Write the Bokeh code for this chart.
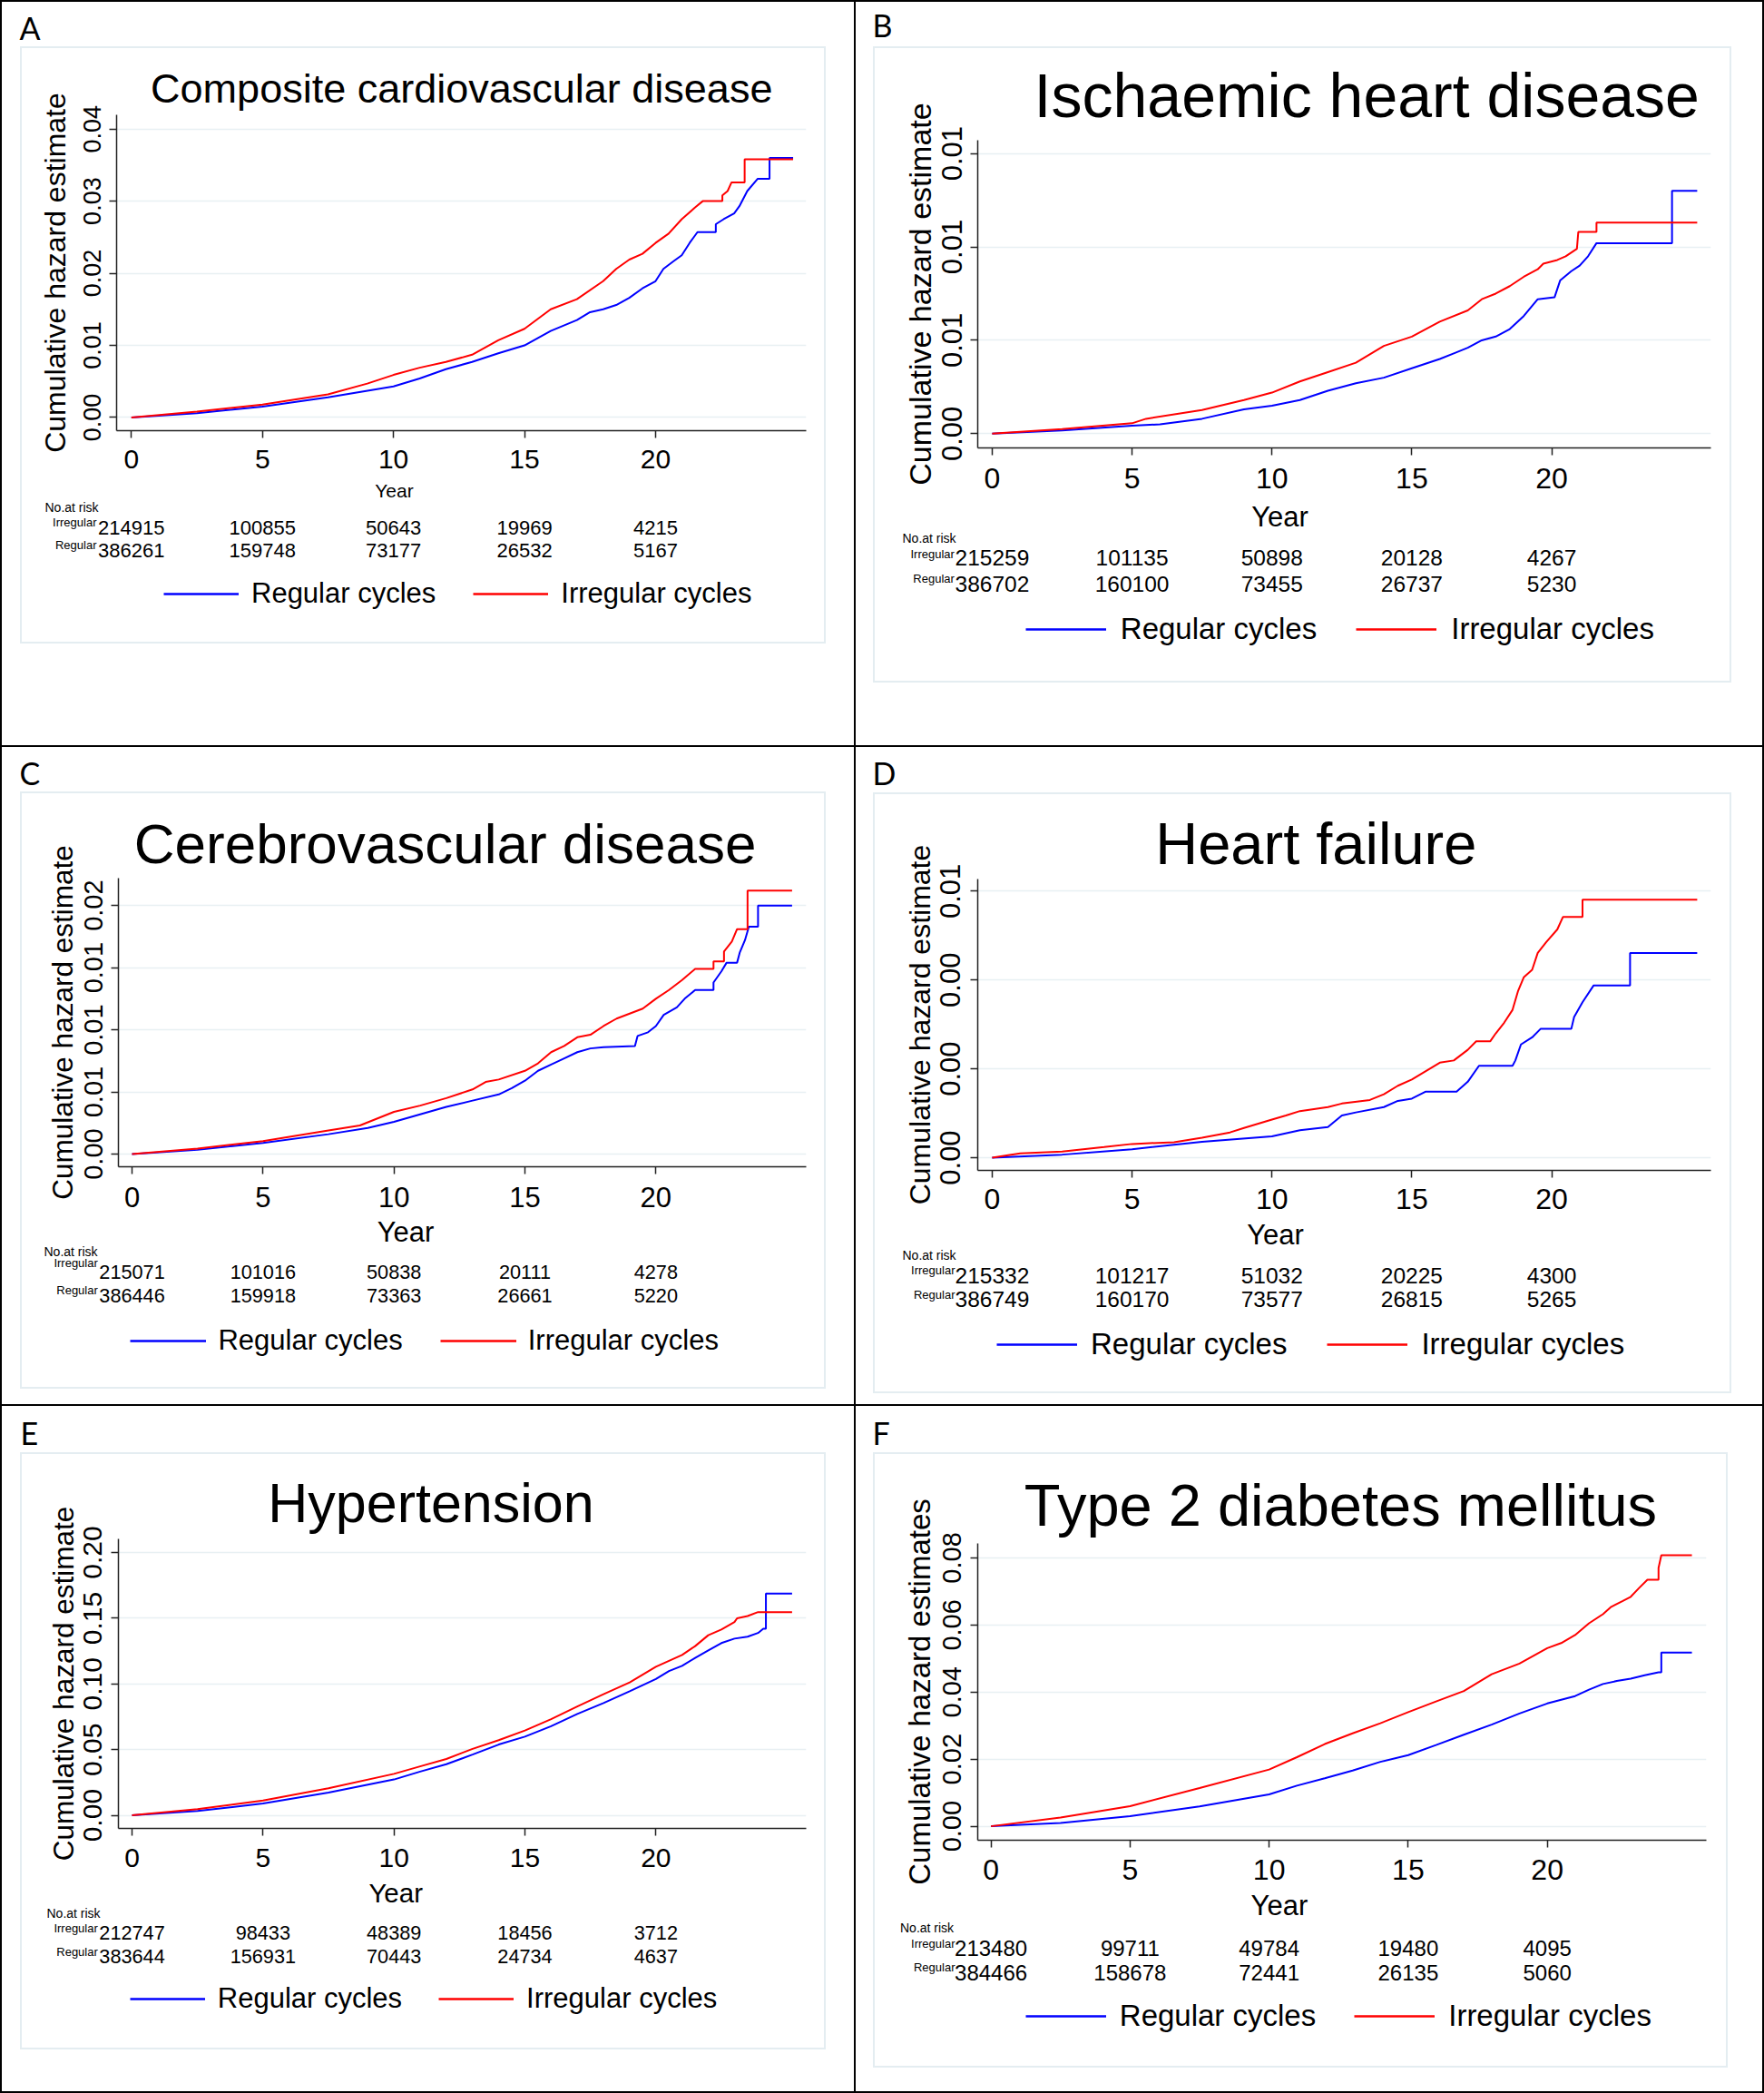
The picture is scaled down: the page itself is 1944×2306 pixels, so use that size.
import math
from bokeh.plotting import figure
from bokeh.layouts import row, column
from bokeh.models import Range1d, FixedTicker, Label, Legend, LegendItem, Spacer
from bokeh.embed import file_html
from bokeh.resources import INLINE

FONT = "Liberation Sans"
LETTER_FONT = "Lato"
BLUE = "#0000FF"
RED = "#FF0000"
GRID = "#E8F0F3"
BOXC = "#E4EDF1"
AXC = "#222222"

# ---------------- data ----------------
year_ticks = [0, 5, 10, 15, 20]
legend_labels = ["Regular cycles", "Irregular cycles"]
risk_row_labels = ["Irregular", "Regular"]

panel_letters = ["A", "B", "C", "D", "E", "F"]
titles = ["Composite cardiovascular disease", "Ischaemic heart disease",
          "Cerebrovascular disease", "Heart failure", "Hypertension",
          "Type 2 diabetes mellitus"]
ylabels = ["Cumulative hazard estimate"] * 5 + ["Cumulative hazard estimates"]

A_yticks = [0.0, 0.01, 0.02, 0.03, 0.04]
A_ytick_labels = ["0.00", "0.01", "0.02", "0.03", "0.04"]
B_yticks = [0.0, 0.005, 0.01, 0.015]
B_ytick_labels = ["0.00", "0.01", "0.01", "0.01"]
C_yticks = [0.0, 0.005, 0.01, 0.015, 0.02]
C_ytick_labels = ["0.00", "0.01", "0.01", "0.01", "0.02"]
D_yticks = [0.0, 0.002, 0.004, 0.006]
D_ytick_labels = ["0.00", "0.00", "0.00", "0.01"]
E_yticks = [0.0, 0.05, 0.10, 0.15, 0.20]
E_ytick_labels = ["0.00", "0.05", "0.10", "0.15", "0.20"]
F_yticks = [0.0, 0.02, 0.04, 0.06, 0.08]
F_ytick_labels = ["0.00", "0.02", "0.04", "0.06", "0.08"]

A_reg_t = [0, 2.5, 5, 7.5, 10, 11, 12, 13, 14, 15, 16, 17, 17.5, 18, 18.5, 19, 19.5, 20, 20.3, 20.7,
           21, 21.3, 21.6, 22.3, 22.3, 22.6, 23.0, 23.2, 23.5, 23.9, 24.35, 24.35, 25.25]
A_reg_h = [0, 0.0006, 0.0015, 0.0028, 0.0043, 0.0054, 0.0067, 0.0077, 0.0089, 0.0100, 0.0120, 0.0135,
           0.0146, 0.0150, 0.0156, 0.0166, 0.0179, 0.0189, 0.0206, 0.0217, 0.0225, 0.0242, 0.0257,
           0.0257, 0.0268, 0.0275, 0.0283, 0.0293, 0.0314, 0.0331, 0.0331, 0.0360, 0.0360]
A_irr_t = [0, 2.5, 5, 7.5, 9, 10, 11, 12, 13, 14, 15, 16, 17, 18, 18.5, 19, 19.5, 20, 20.5, 21,
           21.5, 21.8, 22.55, 22.55, 22.75, 22.9, 23.4, 23.4, 25.25]
A_irr_h = [0, 0.0008, 0.0018, 0.0032, 0.0047, 0.0059, 0.0069, 0.0077, 0.0087, 0.0107, 0.0123, 0.0150,
           0.0164, 0.0189, 0.0206, 0.0219, 0.0227, 0.0242, 0.0255, 0.0275, 0.0291, 0.0300, 0.0300,
           0.0308, 0.0314, 0.0326, 0.0326, 0.0358, 0.0358]

B_reg_t = [0, 2.5, 5, 6, 7.5, 9, 10, 11, 12, 13, 14, 15, 16, 16.5, 17, 17.5, 18, 18.5, 19, 19.5,
           20.1, 20.3, 20.7, 21, 21.3, 21.6, 24.3, 24.3, 25.2]
B_reg_h = [0, 0.00018, 0.00043, 0.0005, 0.0008, 0.0013, 0.0015, 0.0018, 0.0023, 0.0027, 0.0030,
           0.0035, 0.0040, 0.0043, 0.0046, 0.0050, 0.0052, 0.0056, 0.0063, 0.0072, 0.0073, 0.0082,
           0.0087, 0.0090, 0.0095, 0.0102, 0.0102, 0.0130, 0.0130]
B_irr_t = [0, 2.5, 5, 5.5, 7.5, 9, 10, 11, 12, 13, 14, 15, 16, 17, 17.5, 18, 18.5, 19, 19.5, 19.7,
           20.2, 20.5, 20.9, 20.95, 21.6, 21.6, 25.2]
B_irr_h = [0, 0.00025, 0.00056, 0.0008, 0.00127, 0.0018, 0.0022, 0.0028, 0.0033, 0.0038, 0.0047,
           0.0052, 0.0060, 0.0066, 0.0072, 0.0075, 0.0079, 0.0084, 0.0088, 0.0091, 0.0093, 0.0095,
           0.0099, 0.0108, 0.0108, 0.0113, 0.0113]

C_reg_t = [0, 2.5, 5, 7.5, 9, 10, 11, 12, 13, 14, 14.5, 15, 15.5, 16, 16.5, 17, 17.5, 18, 19.2,
           19.3, 19.7, 20, 20.3, 20.8, 21.1, 21.5, 22.2, 22.2, 22.5, 22.7, 23.1, 23.2, 23.4, 23.55,
           23.9, 23.9, 25.2]
C_reg_h = [0, 0.00034, 0.0009, 0.0016, 0.0021, 0.0026, 0.0032, 0.0038, 0.0043, 0.0048, 0.0053,
           0.0059, 0.0067, 0.0072, 0.0077, 0.0082, 0.0085, 0.0086, 0.0087, 0.0095, 0.0098, 0.0103,
           0.0112, 0.0118, 0.0125, 0.0132, 0.0132, 0.0138, 0.0147, 0.0154, 0.0154, 0.0162, 0.0172,
           0.0183, 0.0183, 0.0200, 0.0200]
C_irr_t = [0, 2.5, 5, 7.5, 8.7, 10, 11, 12, 13, 13.5, 14, 15, 15.5, 16, 16.5, 17, 17.5, 18, 18.5,
           19, 19.5, 20, 20.5, 21, 21.5, 22.2, 22.2, 22.6, 22.6, 22.9, 23.1, 23.5, 23.5, 25.2]
C_irr_h = [0, 0.00044, 0.00105, 0.0019, 0.0023, 0.0034, 0.0039, 0.0045, 0.0052, 0.0058, 0.0060,
           0.0067, 0.0073, 0.0082, 0.0087, 0.0094, 0.0096, 0.0103, 0.0109, 0.0113, 0.0117, 0.0125,
           0.0132, 0.0140, 0.0149, 0.0149, 0.0155, 0.0155, 0.0163, 0.0171, 0.0181, 0.0181, 0.0212,
           0.0212]

D_reg_t = [0, 2.5, 5, 7.5, 10, 11, 12, 12.5, 13, 14, 14.5, 15, 15.5, 16.6, 17, 17.4, 18.6, 18.7,
           18.9, 19.3, 19.6, 20.7, 20.8, 21.1, 21.5, 22.8, 22.8, 25.2]
D_reg_h = [0, 0.00007, 0.00019, 0.00036, 0.00048, 0.00062, 0.00069, 0.00095, 0.00102, 0.00114,
           0.00128, 0.00133, 0.00149, 0.00149, 0.00171, 0.00207, 0.00207, 0.00219, 0.00255, 0.00271,
           0.0029, 0.0029, 0.00317, 0.0035, 0.00388, 0.00388, 0.00461, 0.00461]
D_irr_t = [0, 1, 2.5, 4, 5, 6.5, 7.5, 8.5, 9, 10, 10.5, 11, 12, 12.5, 13.5, 14, 14.5, 15, 15.5, 16,
           16.5, 17, 17.3, 17.8, 18, 18.3, 18.6, 18.8, 19, 19.3, 19.5, 19.8, 20.2, 20.4, 21.1, 21.1,
           25.2]
D_irr_h = [0, 0.0001, 0.00014, 0.00024, 0.00031, 0.00035, 0.00045, 0.00057, 0.00067, 0.00086,
           0.00095, 0.00105, 0.00114, 0.00122, 0.0013, 0.00143, 0.00162, 0.00176, 0.00195, 0.00214,
           0.00219, 0.00243, 0.00262, 0.00262, 0.0028, 0.00304, 0.00333, 0.00376, 0.00406, 0.00423,
           0.00461, 0.00485, 0.00514, 0.00542, 0.00542, 0.00581, 0.00581]

E_reg_t = [0, 2.5, 5, 7.5, 10, 11, 12, 13, 14, 15, 16, 17, 18, 19, 20, 20.5, 21, 21.5, 22, 22.5,
           23, 23.5, 23.9, 24.1, 24.2, 24.2, 25.2]
E_reg_h = [0, 0.0033, 0.0090, 0.0173, 0.0273, 0.0333, 0.0389, 0.0463, 0.0539, 0.0599, 0.0679,
           0.0772, 0.0855, 0.0945, 0.1038, 0.1098, 0.1138, 0.1198, 0.1255, 0.1311, 0.1345, 0.136,
           0.1388, 0.142, 0.142, 0.1687, 0.1687]
E_irr_t = [0, 2.5, 5, 7.5, 10, 11, 12, 13, 14, 15, 16, 17, 18, 19, 20, 21, 21.5, 22, 22.5, 23,
           23.1, 23.5, 23.9, 25.2]
E_irr_h = [0, 0.0047, 0.0113, 0.0206, 0.0316, 0.0373, 0.0429, 0.0506, 0.0572, 0.0646, 0.0732,
           0.0829, 0.0922, 0.1012, 0.1131, 0.1221, 0.1288, 0.1371, 0.1414, 0.1471, 0.150, 0.1517,
           0.1547, 0.1547]

F_reg_t = [0, 2.5, 5, 7.5, 10, 11, 12, 13, 14, 15, 16, 17, 18, 19, 20, 21, 21.5, 22, 22.5, 23,
           23.5, 24.0, 24.1, 24.1, 25.2]
F_reg_h = [0, 0.0010, 0.0030, 0.0059, 0.0095, 0.0121, 0.0143, 0.0166, 0.0192, 0.0212, 0.0242,
           0.0273, 0.0303, 0.0336, 0.0366, 0.0388, 0.0407, 0.0424, 0.0433, 0.0440, 0.0450, 0.0459,
           0.0459, 0.0518, 0.0518]
F_irr_t = [0, 2.5, 5, 7.5, 10, 11, 12, 13, 14, 15, 16, 17, 18, 19, 20, 20.5, 21, 21.5, 22, 22.3,
           22.7, 23, 23.3, 23.6, 24.0, 24.0, 24.1, 25.2]
F_irr_h = [0, 0.0026, 0.0060, 0.0114, 0.0169, 0.0206, 0.0245, 0.0277, 0.0307, 0.0340, 0.0372,
           0.0403, 0.0453, 0.0485, 0.0531, 0.0546, 0.0570, 0.0605, 0.0632, 0.0654, 0.0671, 0.0684,
           0.0710, 0.0735, 0.0735, 0.0770, 0.0808, 0.0808]

A_risk_irr = [214915, 100855, 50643, 19969, 4215]
A_risk_reg = [386261, 159748, 73177, 26532, 5167]
B_risk_irr = [215259, 101135, 50898, 20128, 4267]
B_risk_reg = [386702, 160100, 73455, 26737, 5230]
C_risk_irr = [215071, 101016, 50838, 20111, 4278]
C_risk_reg = [386446, 159918, 73363, 26661, 5220]
D_risk_irr = [215332, 101217, 51032, 20225, 4300]
D_risk_reg = [386749, 160170, 73577, 26815, 5265]
E_risk_irr = [212747, 98433, 48389, 18456, 3712]
E_risk_reg = [383644, 156931, 70443, 24734, 4637]
F_risk_irr = [213480, 99711, 49784, 19480, 4095]
F_risk_reg = [384466, 158678, 72441, 26135, 5060]

DATA = {
    "A": dict(yt=A_yticks, yl=A_ytick_labels, reg=(A_reg_t, A_reg_h), irr=(A_irr_t, A_irr_h),
              ri=A_risk_irr, rr=A_risk_reg),
    "B": dict(yt=B_yticks, yl=B_ytick_labels, reg=(B_reg_t, B_reg_h), irr=(B_irr_t, B_irr_h),
              ri=B_risk_irr, rr=B_risk_reg),
    "C": dict(yt=C_yticks, yl=C_ytick_labels, reg=(C_reg_t, C_reg_h), irr=(C_irr_t, C_irr_h),
              ri=C_risk_irr, rr=C_risk_reg),
    "D": dict(yt=D_yticks, yl=D_ytick_labels, reg=(D_reg_t, D_reg_h), irr=(D_irr_t, D_irr_h),
              ri=D_risk_irr, rr=D_risk_reg),
    "E": dict(yt=E_yticks, yl=E_ytick_labels, reg=(E_reg_t, E_reg_h), irr=(E_irr_t, E_irr_h),
              ri=E_risk_irr, rr=E_risk_reg),
    "F": dict(yt=F_yticks, yl=F_ytick_labels, reg=(F_reg_t, F_reg_h), irr=(F_irr_t, F_irr_h),
              ri=F_risk_irr, rr=F_risk_reg),
}

# ---------------- layout (reference pixel positions, page coordinates) ----------------
COL_X0 = [2, 943]
COL_W = [939, 999]
ROW_Y0 = [2, 823, 1549]
ROW_H = [819, 724, 755]

# title: (centre x, font px, em width, standoff)
LAY = {
    "A": dict(col=0, row=0, frame=(128.4, 888.0, 125.8, 474.4), xr=(-0.565, 25.75), yr=(-0.00183, 0.04197),
              letter=(21, 44.6), title=(508.6, 45, 15.227, 8), ylab=(60.5, 300.1, 32),
              ybot=526,
              yt=(101, 27), xt=(507.5, 30), year=(434, 540, 21), nar=(49, 558.5),
              sup=(106, 575, 600), rows=(581, 606, 22),
              leg=(180, 263, 654.3, 277, 521, 31), box=(22.3, 910, 50.9, 708.8)),
    "B": dict(col=1, row=0, frame=(1076.9, 1884.7, 152.0, 492.8), xr=(-0.516, 25.69), yr=(-0.00076, 0.01571),
              letter=(961, 42), title=(1505.6, 68, 10.782, 24), ylab=(1010.6, 320.8, 34),
              ybot=550,
              yt=(1047, 31), xt=(528.4, 32), year=(1410, 568.8, 31), nar=(994, 592.4),
              sup=(1051.4, 609.7, 637), rows=(614.4, 643.3, 24.5),
              leg=(1129.8, 1219, 693, 1234.9, 1494.2, 33), box=(962, 1908, 50.9, 752.3)),
    "C": dict(col=0, row=1, frame=(129.6, 887.7, 967.3, 1285.4), xr=(-0.52, 25.74), yr=(-0.00102, 0.0222),
              letter=(21, 866), title=(489.7, 62, 11.059, 7), ylab=(66.3, 1126, 31.5),
              ybot=1339,
              yt=(101, 29), xt=(1320.2, 31), year=(446.6, 1357.4, 31), nar=(48, 1378.2),
              sup=(107.3, 1390.8, 1420.9), rows=(1401, 1427, 21.7),
              leg=(143.4, 227.8, 1476.7, 241, 485, 31), box=(22, 910, 871.7, 1530)),
    "D": dict(col=1, row=1, frame=(1076.9, 1884.7, 968.3, 1288.6), xr=(-0.516, 25.69), yr=(-0.000285, 0.006274),
              letter=(961, 866), title=(1450, 65, 5.456, 6), ylab=(1010.6, 1128.4, 32),
              ybot=1341,
              yt=(1045.7, 31), xt=(1322, 32), year=(1405, 1360.2, 31), nar=(994, 1382.9),
              sup=(1052, 1399.1, 1425.6), rows=(1404.7, 1431.2, 24.5),
              leg=(1098, 1187, 1481.3, 1201.7, 1462, 33), box=(962, 1908, 873, 1534.7)),
    "E": dict(col=0, row=2, frame=(129.6, 887.7, 1694.6, 2013.8), xr=(-0.52, 25.74), yr=(-0.00994, 0.2104),
              letter=(22, 1593), title=(474, 61, 5.891, 11), ylab=(66.3, 1853.7, 31.5),
              ybot=2067,
              yt=(99, 30), xt=(2048, 30), year=(435.7, 2084.6, 29.5), nar=(51, 2107.8),
              sup=(107.3, 2123.7, 2150.3), rows=(2128.6, 2155.1, 21.7),
              leg=(142.8, 226, 2201.8, 239.9, 483, 31), box=(22.3, 910, 1599.7, 2257.8)),
    "F": dict(col=1, row=2, frame=(1076.9, 1879.6, 1699.5, 2027.3), xr=(-0.476, 25.72), yr=(-0.00416, 0.0843),
              letter=(961, 1593), title=(1478.6, 65, 10.782, 12), ylab=(1010.6, 1862.4, 33),
              ybot=2081,
              yt=(1047, 29), xt=(2062, 32), year=(1409.4, 2099.2, 31), nar=(991.5, 2123.7),
              sup=(1052, 2140.6, 2167.1), rows=(2146.4, 2173.4, 24),
              leg=(1129.8, 1219, 2221.1, 1233.6, 1491.6, 33), box=(962, 1903.9, 1599.7, 2278)),
}

WHITE = {"background-color": "white"}
BLACK = {"background-color": "black"}
LIGHT = {"background-color": BOXC}


def px(v):
    return f"{v:.1f}px"


def blank(w, h, xr=None):
    f = figure(width=int(w), height=int(h), x_range=xr if xr is not None else Range1d(0, w),
               y_range=Range1d(0, h), title=None, x_axis_type=None, y_axis_type=None,
               min_border=0, output_backend="svg", toolbar_location=None,
               outline_line_color=None, background_fill_color="white",
               border_fill_color="white")
    return f


def lab(fig, text, x, y, size, font=FONT, align="left", baseline="middle", angle=0.0,
        xu="screen"):
    fig.add_layout(Label(x=x, y=y, x_units=xu, y_units="screen", text=text,
                         text_font=font, text_font_size=px(size), text_color="black",
                         text_align=align, text_baseline=baseline, angle=angle))


def build(idx):
    key = panel_letters[idx]
    d = DATA[key]
    lay = LAY[key]
    ci, ri = lay["col"], lay["row"]
    ox, oy = COL_X0[ci], ROW_Y0[ri]
    W, H = COL_W[ci], ROW_H[ri]

    bx0, bx1, by0, by1 = lay["box"]
    bl = int(round(bx0 - ox))
    br = int(round(bx1 - ox))
    bt = int(round(by0 - oy))
    bb = int(round(by1 - oy))
    iw = br - bl - 4
    ih = bb - bt - 4
    ix0 = ox + bl + 2
    iy0 = oy + bt + 2

    def IX(a):
        return a - ix0

    def IY(a):
        return a - iy0

    YB = int(round(IY(lay["ybot"])))
    fl, fr, ft, fb = lay["frame"]
    FL = int(round(IX(fl)))
    FR = int(round(IX(fr)))
    FT = int(round(IY(ft)))
    FB = int(round(IY(fb)))

    xr = Range1d(*lay["xr"])
    # ---------- main plot ----------
    p = figure(width=iw, height=YB, x_range=xr, y_range=Range1d(*lay["yr"]),
               min_border_left=FL, min_border_right=iw - FR, min_border_top=FT,
               min_border_bottom=YB - FB, title=titles[idx],
               output_backend="svg", toolbar_location=None, outline_line_color=None,
               background_fill_color="white", border_fill_color="white")
    tx, ts, tem, tso = lay["title"]
    p.title.text_font = FONT
    p.title.text_font_size = px(ts)
    p.title.text_font_style = "normal"
    p.title.text_color = "black"
    p.title.align = "left"
    p.title.vertical_align = "bottom"
    p.title.offset = (tx - tem * ts / 2) - fl
    # keep the title panel inside the top border so the frame is not pushed down
    p.title.standoff = int(max(0, min(tso, FT - 3 - math.ceil(1.07 * ts))))

    xax = p.xaxis[0]
    yax = p.yaxis[0]
    for ax in (xax, yax):
        ax.axis_line_color = AXC
        ax.axis_line_width = 1.5
        ax.major_tick_line_color = AXC
        ax.major_tick_line_width = 1.5
        ax.major_tick_out = 8
        ax.major_tick_in = 0
        ax.minor_tick_out = 0
        ax.minor_tick_in = 0
        ax.major_label_text_font = FONT
        ax.major_label_text_color = "black"
    xax.ticker = FixedTicker(ticks=year_ticks)
    xfs = lay["xt"][1]
    xax.major_label_text_font_size = px(xfs)
    xax.major_label_standoff = int(round(lay["xt"][0] - fb - 8 - 0.547 * xfs + 4))

    yax.ticker = FixedTicker(ticks=d["yt"])
    yax.major_label_overrides = {t: l for t, l in zip(d["yt"], d["yl"])}
    yfs = lay["yt"][1]
    yax.major_label_text_font_size = px(yfs)
    yax.major_label_orientation = "vertical"
    ystd = int(round(fl - lay["yt"][0] - 8 - 0.57 * yfs + 5))
    yax.major_label_standoff = ystd

    yx, yy, ys = lay["ylab"]
    yax.axis_label = ylabels[idx]
    yax.axis_label_text_font = FONT
    yax.axis_label_text_font_size = px(ys)
    yax.axis_label_text_font_style = "normal"
    yax.axis_label_text_color = "black"
    yax.axis_label_standoff = int(max(0, round((fl - yx) - (8 + ystd + 1.117 * yfs) - 0.57 * ys + 8)))

    p.xgrid.visible = False
    p.ygrid.grid_line_color = GRID
    p.ygrid.grid_line_width = 1.5

    p.line(d["reg"][0], d["reg"][1], line_color=BLUE, line_width=2)
    p.line(d["irr"][0], d["irr"][1], line_color=RED, line_width=2)

    # ---------- bottom strip: x title, at-risk table, legend ----------
    bh = ih - YB
    k = (FR - FL) / (lay["xr"][1] - lay["xr"][0])
    bxr = Range1d(lay["xr"][0] - FL / k, lay["xr"][0] + (iw - FL) / k)
    bf = blank(iw, bh, xr=bxr)

    def BY(a):
        return ih - IY(a)

    yxx, yyy, yss = lay["year"]
    lab(bf, "Year", IX(yxx), BY(yyy), yss, align="center")
    lab(bf, "No.at risk", IX(lay["nar"][0]), BY(lay["nar"][1]), 14)
    supx, sup_i, sup_r = lay["sup"]
    lab(bf, risk_row_labels[0], IX(supx), BY(sup_i), 13, align="right")
    lab(bf, risk_row_labels[1], IX(supx), BY(sup_r), 13, align="right")
    y_i, y_r, rs = lay["rows"]
    for t, n in zip(year_ticks, d["ri"]):
        lab(bf, str(n), t, BY(y_i), rs, align="center", xu="data")
    for t, n in zip(year_ticks, d["rr"]):
        lab(bf, str(n), t, BY(y_r), rs, align="center", xu="data")

    r_reg = bf.line(d["reg"][0], d["reg"][1], line_color=BLUE, line_width=2.5, visible=False)
    r_irr = bf.line(d["irr"][0], d["irr"][1], line_color=RED, line_width=2.5, visible=False)
    lx0, lx1, lcy, ltx, l2x0, lfs = lay["leg"]
    text_w = 6.557 * lfs
    leg = Legend(items=[LegendItem(label=legend_labels[0], renderers=[r_reg]),
                        LegendItem(label=legend_labels[1], renderers=[r_irr])],
                 orientation="horizontal", location=(IX(lx0), BY(lcy) - 20),
                 glyph_width=int(round(lx1 - lx0)), glyph_height=40, label_height=40,
                 label_standoff=int(round(ltx - lx1)),
                 spacing=int(round(l2x0 - ltx - text_w)),
                 padding=0, margin=0, border_line_color=None, background_fill_alpha=0,
                 inactive_fill_alpha=0,
                 label_text_font=FONT, label_text_font_size=px(lfs),
                 label_text_baseline="middle", label_text_color="black")
    bf.add_layout(leg)

    # ---------- top strip: panel letter ----------
    tf = blank(W, bt)
    lx, lb = lay["letter"]
    lab(tf, key, lx - ox, bt - (lb - 15 - oy), 34, font=LETTER_FONT)

    # wrap each plot in its own row so sibling frames are not aligned
    inner = column(row(p, spacing=0), row(bf, spacing=0), spacing=0)
    boxed = column(Spacer(width=br - bl, height=2, styles=LIGHT),
                   row(Spacer(width=2, height=ih, styles=LIGHT), inner,
                       Spacer(width=2, height=ih, styles=LIGHT), spacing=0),
                   Spacer(width=br - bl, height=2, styles=LIGHT), spacing=0)
    mid = row(Spacer(width=bl, height=bb - bt, styles=WHITE), boxed,
              Spacer(width=W - br, height=bb - bt, styles=WHITE), spacing=0)
    return column(row(tf, spacing=0), mid, Spacer(width=W, height=H - bb, styles=WHITE), spacing=0)


panels = [build(i) for i in range(6)]

TOTAL_W = 2 + COL_W[0] + 2 + COL_W[1] + 2


def hbar():
    return Spacer(width=TOTAL_W, height=2, styles=BLACK)


def vbar(h):
    return Spacer(width=2, height=h, styles=BLACK)


rows_ = []
for r in range(3):
    rows_.append(row(vbar(ROW_H[r]), panels[2 * r], vbar(ROW_H[r]), panels[2 * r + 1],
                     vbar(ROW_H[r]), spacing=0))

layout = column(hbar(), rows_[0], hbar(), rows_[1], hbar(), rows_[2], hbar(), spacing=0)

open("out.html", "w").write(file_html(layout, INLINE))
